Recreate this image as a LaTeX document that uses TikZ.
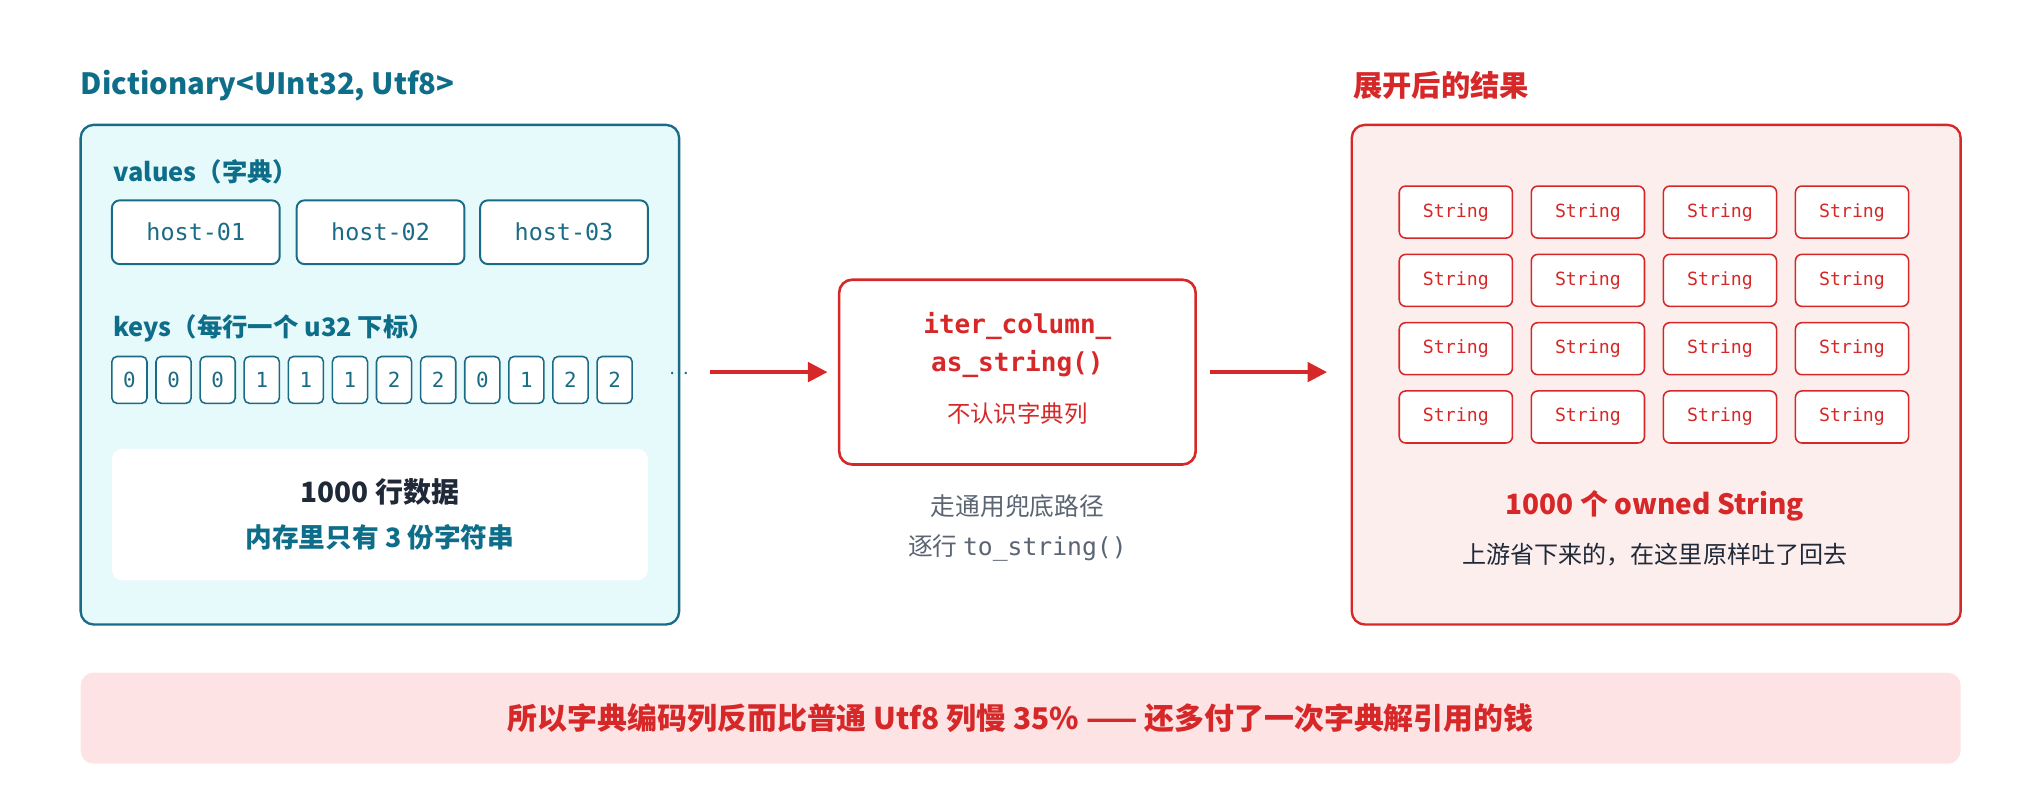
\documentclass[tikz,border=0pt]{standalone}
\usepackage{fontspec}
\setmainfont{Noto Sans CJK SC}
\setmonofont{DejaVu Sans Mono}
\usetikzlibrary{arrows.meta}
\definecolor{teal}{HTML}{0E6E8A}
\definecolor{tealb}{HTML}{1A6B85}
\definecolor{red}{HTML}{D62828}
\definecolor{lred}{HTML}{FDEEEE}
\definecolor{lteal}{HTML}{E6FAFC}
\definecolor{bar}{HTML}{FDE3E3}
\definecolor{dark}{HTML}{1F2937}
\definecolor{gray}{HTML}{5B6472}
\begin{document}
\begin{tikzpicture}[x=1pt,y=-1pt,
 hostbox/.style={draw=tealb,line width=1.5pt,fill=white,rounded corners=6pt,minimum width=129pt,minimum height=49pt,font=\ttfamily\fontsize{18}{21}\selectfont,text=tealb},
 keybox/.style={draw=tealb,line width=1.2pt,fill=white,rounded corners=4pt,minimum width=27pt,minimum height=36pt,font=\ttfamily\fontsize{16}{19}\selectfont,text=tealb},
 strbox/.style={draw=red,line width=1.2pt,fill=white,rounded corners=5pt,minimum width=87pt,minimum height=40pt,font=\ttfamily\fontsize{14}{17}\selectfont,text=red},
 arr/.style={draw=red,line width=2.8pt,-{Triangle[length=15pt,width=15pt]}},
 lbl/.style={anchor=west,font=\bfseries\fontsize{19.5}{23}\selectfont,inner sep=0pt}]
\useasboundingbox (0,0) rectangle (1568,623);
\node[lbl,text=teal,font=\bfseries\fontsize{22.5}{26}\selectfont] (t1) at (62,66) {Dictionary<UInt32, Utf8>};
\node[lbl,text=red,font=\bfseries\fontsize{22.5}{26}\selectfont] (t2) at (1040,66) {展开后的结果};
\draw[tealb,line width=1.8pt,fill=lteal,rounded corners=10pt] (62,96) rectangle (522,480);
\node[lbl,text=teal] (vl) at (87,132) {values（字典）};
\node[hostbox] (h1) at (150.5,178.5) {host-01};
\node[hostbox] (h2) at (292.5,178.5) {host-02};
\node[hostbox] (h3) at (433.5,178.5) {host-03};
\node[lbl,text=teal] (kl) at (87,252) {keys（每行一个 u32 下标）};
\foreach \v [count=\i from 0] in {0,0,0,1,1,1,2,2,0,1,2,2}
  \node[keybox] (k\i) at (99.5+33.9*\i,292) {\v};
\node[text=tealb,font=\fontsize{14}{16}\selectfont] (dots) at (522,287) {…};
\fill[white,rounded corners=8pt] (86,345) rectangle (498,446);
\node[text=dark,font=\bfseries\fontsize{21.5}{25}\selectfont] (n1) at (292,378) {1000 行数据};
\node[text=teal,font=\bfseries\fontsize{20.5}{24}\selectfont] (n2) at (292,413) {内存里只有 3 份字符串};
\coordinate (a1s) at (546,286); \coordinate (a1e) at (636,286);
\draw[arr] (a1s) -- (a1e);
\draw[red,line width=2pt,fill=white,rounded corners=10pt] (645,215) rectangle (919,357);
\node[text=red,font=\ttfamily\bfseries\fontsize{20}{29}\selectfont,align=center] (m1) at (782,265) {iter\_column\_\\as\_string()};
\node[text=red,font=\fontsize{18}{21}\selectfont] (m2) at (782,318) {不认识字典列};
\node[text=gray,font=\fontsize{19}{23}\selectfont] (g1) at (782,389) {走通用兜底路径};
\node[text=gray,font=\fontsize{19}{23}\selectfont] (g2) at (782,421) {逐行 \texttt{to\_string()}};
\coordinate (a2s) at (930,286); \coordinate (a2e) at (1020,286);
\draw[arr] (a2s) -- (a2e);
\draw[red,line width=1.8pt,fill=lred,rounded corners=10pt] (1039,96) rectangle (1507,480);
\foreach \x [count=\c] in {1119,1220.5,1322,1423.5}
 \foreach \y [count=\r] in {163,215.5,268,320.5}
  \node[strbox] (s\r\c) at (\x,\y) {String};
\node[text=red,font=\bfseries\fontsize{21.5}{25}\selectfont] (o1) at (1272,389) {1000 个 owned String};
\node[text=dark,font=\fontsize{18.5}{22}\selectfont] (o2) at (1272,426) {上游省下来的，在这里原样吐了回去};
\fill[bar,rounded corners=10pt] (62,517) rectangle (1507,587);
\node[text=red,font=\bfseries\fontsize{23}{27}\selectfont] (b) at (784.5,552) {所以字典编码列反而比普通 Utf8 列慢 35\% —— 还多付了一次字典解引用的钱};
\end{tikzpicture}
\end{document}
